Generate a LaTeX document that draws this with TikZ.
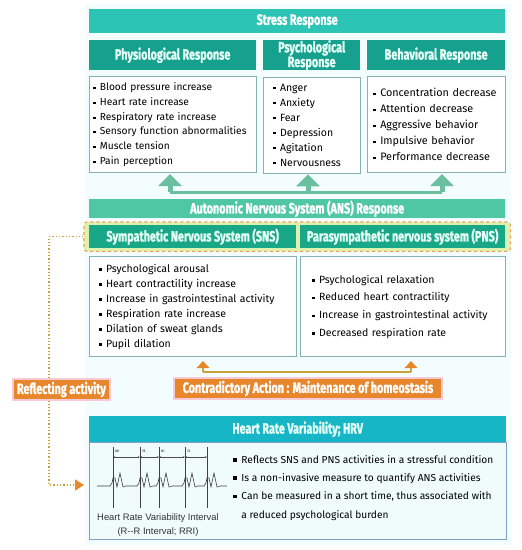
\documentclass[tikz,border=0pt]{standalone}
\usepackage{fontspec}
\setmainfont{Fira Sans}
\newfontfamily\headfont{Fira Sans}[FakeStretch=0.72, BoldFeatures={FakeBold=1.2}]
\newfontfamily\capfont{Liberation Sans}
\usepackage{xcolor}
\usepackage{tikz}
\usetikzlibrary{arrows.meta, positioning, fit, backgrounds}

\definecolor{stressc}{HTML}{2CC4B4}
\definecolor{headc}{HTML}{16A08E}
\definecolor{headtxt}{HTML}{E6FFF7}
\definecolor{ansc}{HTML}{4FC7A5}
\definecolor{sysc}{HTML}{18A887}
\definecolor{boxline}{HTML}{86B2B6}
\definecolor{garrowc}{HTML}{6ABF9F}
\definecolor{orc}{HTML}{E8862C}
\definecolor{goldc}{HTML}{C9A23C}
\definecolor{pinkc}{HTML}{F8CAD6}
\definecolor{spanfill}{HTML}{DDF2B0}
\definecolor{hrvc}{HTML}{17B6C6}
\definecolor{hrvline}{HTML}{7F9FC4}
\definecolor{hrvfill}{HTML}{F0FCFC}
\definecolor{paleback}{HTML}{F3FDFD}

\newcommand{\sq}{\rule[0.28ex]{0.22em}{0.22em}\hspace{0.42em}}
\newcommand{\bsq}{\rule[0.25ex]{0.36em}{0.36em}\hspace{0.45em}}
\hyphenpenalty=10000

\begin{document}
\begin{tikzpicture}[x=1pt,y=-1pt,every node/.style={inner sep=0pt}]
    \tikzset{
        bar/.style={anchor=north west, fill=#1, text=white, minimum width=416pt,
            font=\headfont\bfseries\fontsize{15}{15}\selectfont},
        head/.style={anchor=north west, fill=headc, text=headtxt, minimum height=30pt,
            align=center, font=\headfont\bfseries\fontsize{15}{13}\selectfont},
        list/.style={draw=boxline, fill=white, line width=0.7pt, align=left,
            minimum height=96pt, font=\fontsize{10.5}{14.7}\selectfont},
        sysbox/.style={anchor=north west, fill=sysc, text=headtxt, minimum height=23pt,
            font=\headfont\bfseries\fontsize{15}{15}\selectfont},
        orbox/.style={anchor=north west, fill=orc, text=white, draw=pinkc, line width=2pt,
            minimum height=21pt, font=\headfont\bfseries\fontsize{15}{15}\selectfont},
        garrow/.style={draw=garrowc, line width=5pt, shorten >=1pt,
            -{Triangle[width=23pt,length=12pt]}},
        oarrow/.style={draw=goldc, line width=1.8pt, shorten >=4pt,
            -{Triangle[width=13pt,length=7pt,color=orc]}},
        ecg/.style={draw=black!75, line width=0.6pt},
    }
    \useasboundingbox (0,0) rectangle (522,550);

    % stress response
    \node[bar=stressc, minimum height=24pt] (stress) at (89,9) {Stress Response};
    \node[head, minimum width=167pt] (phyh) at (89,40) {Physiological Response};
    \node[head, minimum width=97pt] (psyh) at (263,40) {Psychological\\Response};
    \node[head, minimum width=138pt] (behh) at (367,40) {Behavioral Response};

    \node[list, inner xsep=4pt, text width=159pt, font=\fontsize{10.2}{14.7}\selectfont,
        below=6pt of phyh.south west, anchor=north west] (phyl) {%
        \sq Blood pressure increase\\ \sq Heart rate increase\\ \sq Respiratory rate increase\\
        \sq Sensory function abnormalities\\ \sq Muscle tension\\ \sq Pain perception};
    \node[list, inner xsep=10pt, text width=77pt, font=\fontsize{10.5}{15}\selectfont,
        below=6pt of psyh.south west, anchor=north west] (psyl) {%
        \sq Anger\\ \sq Anxiety\\ \sq Fear\\ \sq Depression\\ \sq Agitation\\ \sq Nervousness};
    \node[list, inner xsep=6pt, text width=126pt, font=\fontsize{10.8}{16}\selectfont,
        below=6pt of behh.south west, anchor=north west] (behl) {%
        \sq Concentration decrease\\ \sq Attention decrease\\ \sq Aggressive behavior\\
        \sq Impulsive behavior\\ \sq Performance decrease};

    % arrows up from the ANS
    \coordinate (g1) at (170,192);
    \coordinate (g2) at (308,192);
    \coordinate (g3) at (442,192);
    \draw[draw=garrowc, line width=3pt] (g1) -- (g3);
    \draw[garrow] (g1) -- (g1 |- phyl.south);
    \draw[garrow] (g2) -- (g2 |- psyl.south);
    \draw[garrow] (g3) -- (g3 |- behl.south);

    % ANS
    \node[bar=ansc, minimum height=19pt] (ans) at (89,199) {Autonomic Nervous System (ANS) Response};
    \node[sysbox, minimum width=207pt] (sns) at (89,225) {Sympathetic Nervous System (SNS)};
    \node[sysbox, minimum width=205pt] (pns) at (300,225) {Parasympathetic nervous system (PNS)};
    \begin{scope}[on background layer]
        \fill[paleback] (85,4) rectangle (511,545);
        \node[fit=(sns)(pns), inner xsep=5pt, inner ysep=3pt, rounded corners=3pt,
            fill=spanfill, draw=orc!80, dashed, line width=1.1pt] (span) {};
    \end{scope}

    \node[list, inner xsep=10pt, text width=187pt, minimum height=100pt, font=\fontsize{10.5}{15}\selectfont,
        below=8pt of sns.south west, anchor=north west] (snsl) {%
        \sq Psychological arousal\\ \sq Heart contractility increase\\ \sq Increase in gastrointestinal activity\\
        \sq Respiration rate increase\\ \sq Dilation of sweat glands\\ \sq Pupil dilation};
    \node[list, inner xsep=12pt, text width=181pt, minimum height=100pt, font=\fontsize{10.5}{17.7}\selectfont,
        below=8pt of pns.south west, anchor=north west] (pnsl) {%
        \sq Psychological relaxation\\ \sq Reduced heart contractility\\
        \sq Increase in gastrointestinal activity\\ \sq Decreased respiration rate};

    % homeostasis
    \coordinate (o1) at (203,372);
    \coordinate (o2) at (411,372);
    \draw[draw=goldc, line width=1.8pt] (o1) -- (o2);
    \draw[oarrow] (o1) -- (o1 |- snsl.south);
    \draw[oarrow] (o2) -- (o2 |- pnsl.south);
    \node[orbox, minimum width=268pt] (contra) at (173,377) {Contradictory Action : Maintenance of homeostasis};

    % HRV
    \node[anchor=north west, fill=hrvc, text=headtxt, minimum width=417pt, minimum height=26pt,
        font=\headfont\bfseries\fontsize{15}{15}\selectfont] (hrvh) at (89,416) {Heart Rate Variability; HRV};
    \node[anchor=north west, fill=hrvfill, draw=hrvline, line width=0.9pt, minimum width=417pt,
        minimum height=97pt] (hrvb) at (89,442) {};
    \node[anchor=north west, align=left, font=\fontsize{10.2}{18.3}\selectfont] (hrvl) at (233,455) {%
        \bsq Reflects SNS and PNS activities in a stressful condition\\
        \bsq Is a non-invasive measure to quantify ANS activities\\
        \bsq Can be measured in a short time, thus associated with\\
        \hspace{0.8em}a reduced psychological burden};

    % reflecting activity
    \coordinate (hin) at (84,485);
    \draw[draw=goldc, line width=1.3pt, dotted, -{Triangle[width=11pt,length=9pt,color=orc]}]
        (span.west) -| (49,400) |- (hin);
    \node[orbox, minimum width=97pt] (refl) at (12,378) {Reflecting activity};

    % ecg
    \foreach \b in {113,140,159,185,207}
        \draw[ecg] (\b,447) -- (\b,508);
    \draw[ecg] (97,486)
        \foreach \b in {113,140,159,185,207} {
            -- ({\b-3},486) -- ({\b-1},483) -- (\b,478) -- ({\b+2},478) -- ({\b+4},487)
            -- ({\b+7},473) -- ({\b+10},487) -- ({\b+13},486)
        } -- (227,486);
    \foreach \a/\b/\v in {113/140/80, 140/159/76, 159/185/81, 185/207/72} {
        \draw[black!70, line width=0.4pt, {Stealth[length=2pt]}-{Stealth[length=2pt]}] (\a,457) -- (\b,457);
        \node[anchor=west, font=\fontsize{3.5}{4}\selectfont] (iv\v) at (\a+2,451) {\v};
    }
    \node[align=center, text=black!80, font=\capfont\fontsize{9.4}{14}\selectfont] (cap) at (158,525)
        {Heart Rate Variability Interval\\(R--R Interval; RRI)};
\end{tikzpicture}
\end{document}
